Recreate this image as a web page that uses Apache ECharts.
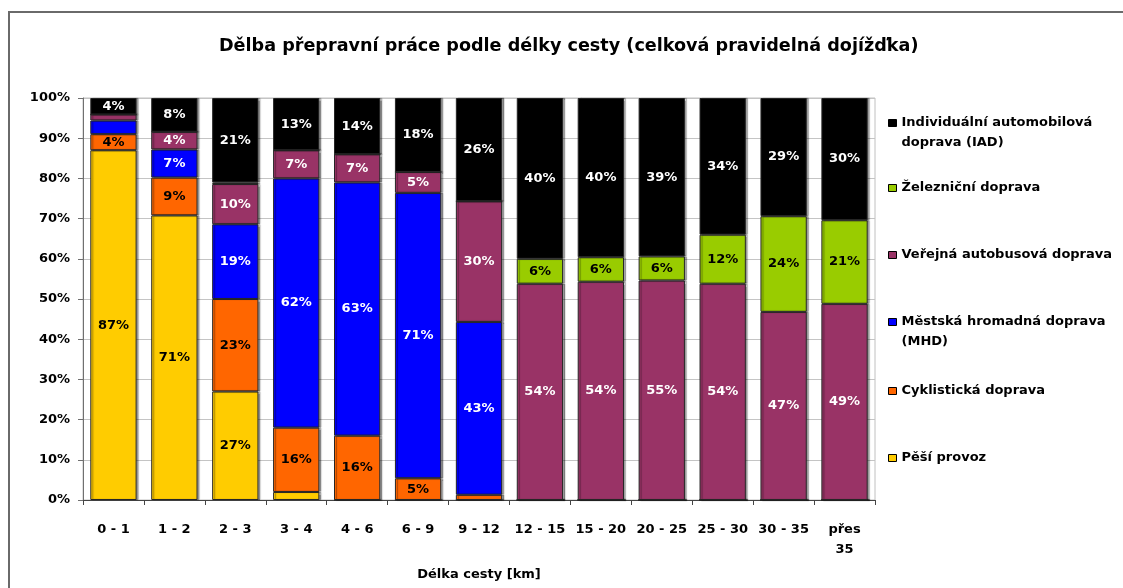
<!DOCTYPE html>
<html>
<head>
<meta charset="utf-8">
<script src="https://cdn.jsdelivr.net/npm/echarts@6/dist/echarts.min.js"></script>
<style>
html,body{margin:0;padding:0;background:#fff;}
#chart{width:1123px;height:588px;}
</style>
</head>
<body>
<div id="chart"></div>
<script>
// ---- data (percent shares) ----
var categories = ['0 - 1','1 - 2','2 - 3','3 - 4','4 - 6','6 - 9','9 - 12','12 - 15','15 - 20','20 - 25','25 - 30','30 - 35','přes 35'];
var yTickLabels = ['0%','10%','20%','30%','40%','50%','60%','70%','80%','90%','100%'];
var pesi   = [87, 70.8, 27, 2, 0, 0, 0, 0, 0, 0, 0, 0, 0];
var cyklo  = [4, 9.4, 23, 16, 16, 5.4, 1.3, 0, 0, 0, 0, 0, 0];
var mhd    = [3.4, 7, 18.6, 62, 63, 71, 43, 0, 0, 0, 0, 0, 0];
var bus    = [1.5, 4.4, 10, 7, 7, 5.2, 30, 53.8, 54.3, 54.6, 53.8, 46.8, 48.8];
var vlak   = [0, 0, 0.4, 0, 0, 0, 0, 6.2, 6.1, 6.0, 12.2, 23.8, 20.8];
var iad    = [4.1, 8.4, 21, 13, 14, 18.4, 25.7, 40, 39.6, 39.4, 34, 29.4, 30.4];

var names = {
  pesi: 'Pěší provoz',
  cyklo: 'Cyklistická doprava',
  mhd: 'Městská hromadná doprava (MHD)',
  bus: 'Veřejná autobusová doprava',
  vlak: 'Železniční doprava',
  iad: 'Individuální automobilová doprava (IAD)'
};

var FONT = 'DejaVu Sans, Verdana, sans-serif';

function mkSeries(name, data, color, labelColor) {
  return {
    name: name,
    type: 'bar',
    stack: 'total',
    data: data,
    barCategoryGap: '24%',
    itemStyle: {
      color: color,
      borderColor: '#262626',
      borderWidth: 1,
      shadowColor: 'rgba(0,0,0,0.35)',
      shadowOffsetX: 2,
      shadowOffsetY: 0,
      shadowBlur: 1
    },
    label: {
      show: true,
      position: 'inside',
      color: labelColor,
      fontFamily: FONT,
      fontWeight: 'bold',
      fontSize: 13,
      formatter: function (p) {
        return p.value >= 3.8 ? Math.round(p.value) + '%' : '';
      }
    },
    emphasis: { disabled: true }
  };
}

function mkLegend(name, top) {
  return {
    data: [name],
    orient: 'vertical',
    left: 888,
    top: top,
    padding: 0,
    itemWidth: 8,
    itemHeight: 7,
    icon: 'rect',
    selectedMode: false,
    itemStyle: { borderColor: '#000', borderWidth: 1 },
    formatter: function (n) {
      if (n === names.iad) return '\nIndividuální automobilová\ndoprava (IAD)';
      if (n === names.mhd) return '\nMěstská hromadná doprava\n(MHD)';
      return n;
    },
    textStyle: {
      fontFamily: FONT,
      fontWeight: 'bold',
      fontSize: 13,
      color: '#000',
      lineHeight: 20
    },
    itemGap: 0
  };
}

var chart = echarts.init(document.getElementById('chart'), null, { renderer: 'canvas' });
chart.setOption({
  animation: false,
  backgroundColor: '#fff',
  title: {
    text: 'Dělba přepravní práce podle délky cesty (celková pravidelná dojížďka)',
    left: 214,
    top: 32,
    textStyle: { fontFamily: FONT, fontWeight: 'bold', fontSize: 17.6, color: '#000' }
  },
  graphic: [{
    type: 'rect',
    shape: { x: 9, y: 12, width: 1200, height: 700 },
    style: { fill: 'none', stroke: '#6a6a6a', lineWidth: 2 },
    silent: true
  }],
  legend: [
    mkLegend(names.iad, 93),
    mkLegend(names.vlak, 178),
    mkLegend(names.bus, 245),
    mkLegend(names.mhd, 292),
    mkLegend(names.cyklo, 381),
    mkLegend(names.pesi, 448)
  ],
  grid: {
    left: 83, right: 248, top: 98, bottom: 88,
    show: true, borderColor: '#c0c0c0', borderWidth: 1
  },
  xAxis: {
    type: 'category',
    data: categories,
    name: 'Délka cesty [km]',
    nameLocation: 'middle',
    nameGap: 68,
    nameTextStyle: { fontFamily: FONT, fontWeight: 'bold', fontSize: 13, color: '#000' },
    axisLine: { lineStyle: { color: '#444', width: 1 } },
    axisTick: { show: true, length: 5, lineStyle: { color: '#444' } },
    axisLabel: {
      margin: 20,
      fontFamily: FONT, fontWeight: 'bold', fontSize: 13, color: '#000',
      lineHeight: 20,
      interval: 0,
      formatter: function (v) { return v.replace('přes ', 'přes\n'); }
    }
  },
  yAxis: {
    type: 'value',
    min: 0, max: 100, interval: 10,
    axisLine: { show: true, lineStyle: { color: '#707070' } },
    axisTick: { show: true, length: 5, lineStyle: { color: '#707070' } },
    splitLine: { show: true, lineStyle: { color: '#c4c4c4', width: 1 } },
    axisLabel: {
      margin: 13,
      fontFamily: FONT, fontWeight: 'bold', fontSize: 13, color: '#000',
      formatter: function (v) { return yTickLabels[Math.round(v / 10)]; }
    }
  },
  series: [
    mkSeries(names.pesi, pesi, '#FFCC00', '#000'),
    mkSeries(names.cyklo, cyklo, '#FF6600', '#000'),
    mkSeries(names.mhd, mhd, '#0000FF', '#fff'),
    mkSeries(names.bus, bus, '#993366', '#fff'),
    mkSeries(names.vlak, vlak, '#99CC00', '#000'),
    mkSeries(names.iad, iad, '#000000', '#fff')
  ]
});
</script>
</body>
</html>
